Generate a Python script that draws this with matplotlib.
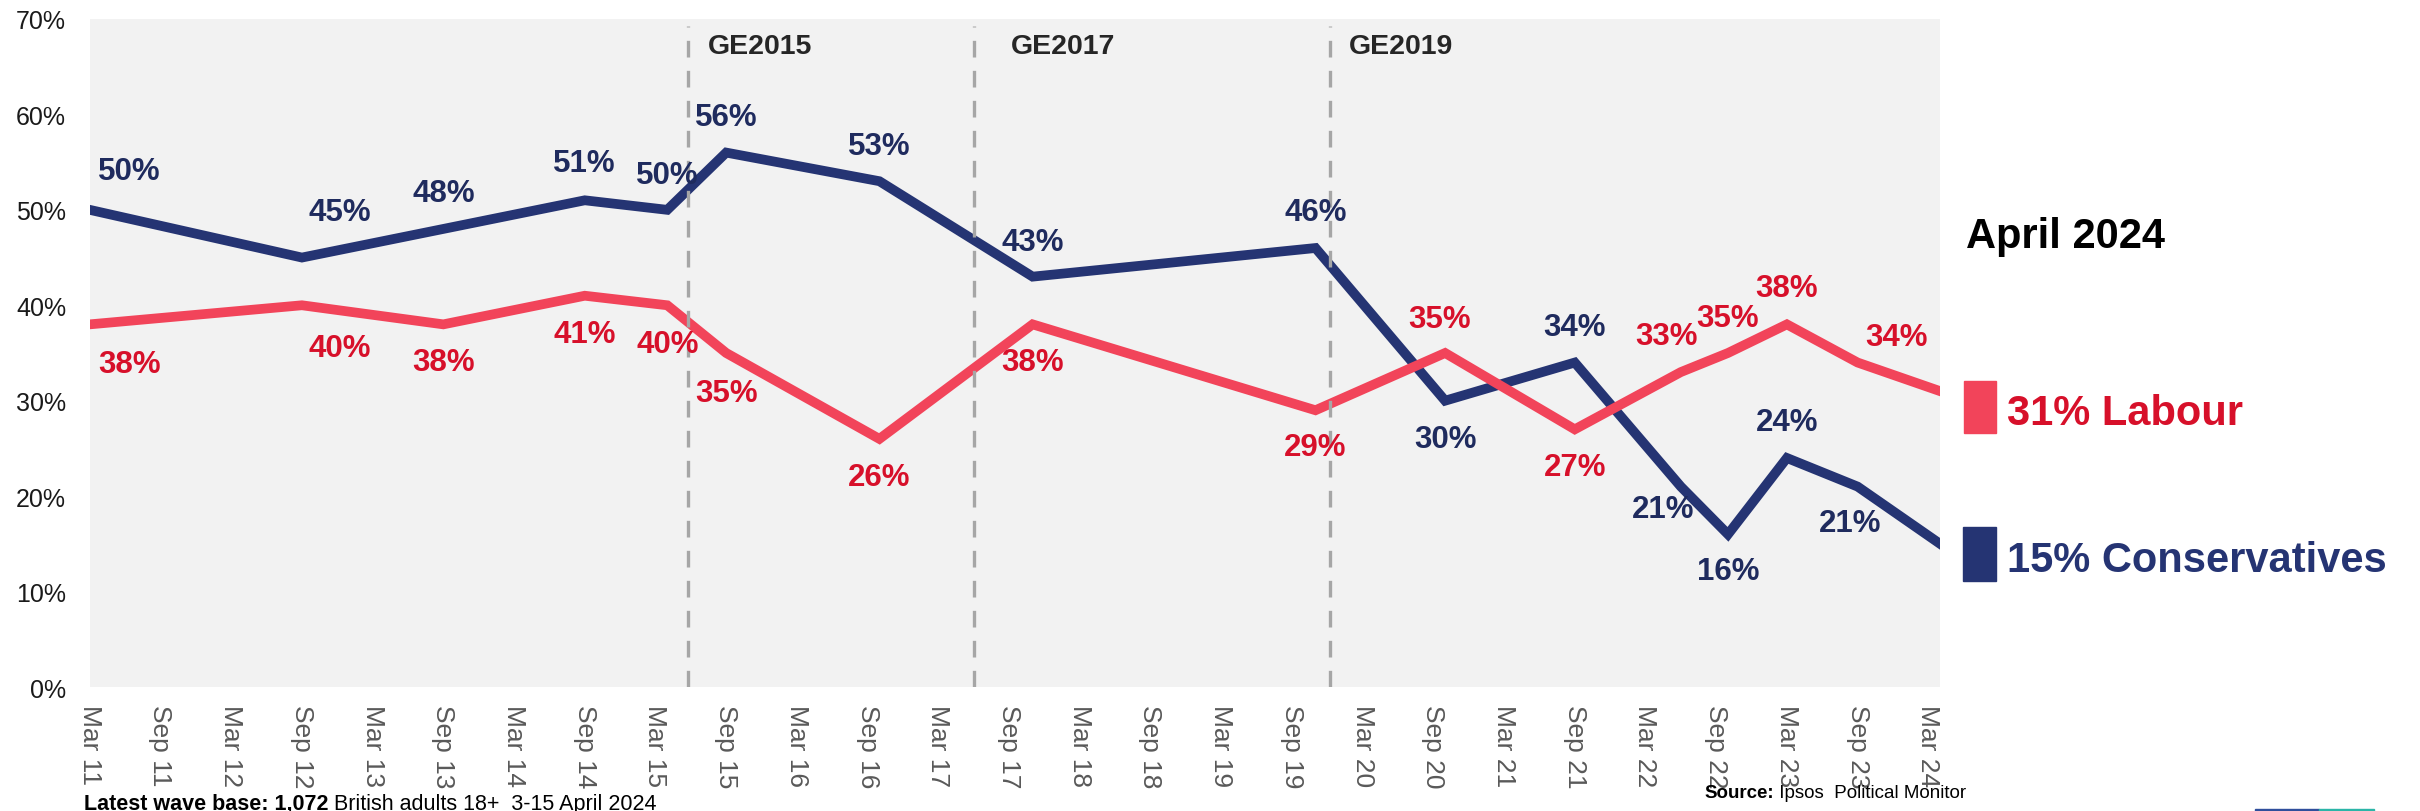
import matplotlib.pyplot as plt
from matplotlib.patches import Rectangle

plt.rcParams['font.family'] = ['Liberation Sans', 'DejaVu Sans']

## data ##

# months counted from March 2011
months = [0, 18, 30, 42, 49, 54, 67, 80, 104, 115, 126, 135, 139, 144, 150, 157]
conservatives = [50, 45, 48, 51, 50, 56, 53, 43, 46, 30, 34, 21, 16, 24, 21, 15]
labour = [38, 40, 38, 41, 40, 35, 26, 38, 29, 35, 27, 33, 35, 38, 34, 31]

tick_months = list(range(0, 157, 6))
tick_labels = []
for year in range(11, 25):
    tick_labels.append('Mar ' + str(year))
    if year < 24:
        tick_labels.append('Sep ' + str(year))

elections = ['GE2015', 'GE2017', 'GE2019']
election_months = [50.75, 75.0, 105.2]

## label placement (pixels from the point) ##

con_offsets = [(40, 39), (38, 46), (0, 36), (0, 37), (0, 35), (0, 36), (0, 35), (0, 35),
               (0, 36), (0, -38), (0, 36), (-18, -22), (0, -37), (0, 36), (-7, -36), None]
lab_offsets = [(40, -40), (38, -43), (0, -38), (0, -38), (0, -39), (0, -40), (0, -38), (0, -38),
               (0, -37), (-6, 34), (0, -38), (-14, 36), (0, 35), (0, 36), (39, 26), None]
ge_dx = [20, 37, 19]

blue = '#253473'
blue_text = '#1f2b5e'
red = '#f2445a'
red_text = '#d7102a'

fig = plt.figure(figsize=(24.2, 8.12), dpi=100)
ax = fig.add_axes([0.0371, 0.1527, 0.7646, 0.8227])
ax.set_facecolor('#f2f2f2')

ax.plot(months, conservatives, color=blue, lw=7, solid_joinstyle='miter', zorder=2)
ax.plot(months, labour, color=red, lw=7, solid_joinstyle='miter', zorder=2)

for m, name, dx in zip(election_months, elections, ge_dx):
    ax.axvline(m, ymin=0, ymax=0.99, color='#a6a6a6', lw=2.4, dashes=(5, 4), zorder=3)
    ax.annotate(name, xy=(m, 70), xytext=(dx, -27), textcoords='offset pixels',
                ha='left', va='center', fontsize=20.5, fontweight='bold', color='#262626')

for x, v, off in zip(months, conservatives, con_offsets):
    if off is None:
        continue
    ax.annotate(str(v) + '%', xy=(x, v), xytext=off, textcoords='offset pixels',
                ha='center', va='center', fontsize=22.5, fontweight='bold', color=blue_text, zorder=4)

for x, v, off in zip(months, labour, lab_offsets):
    if off is None:
        continue
    ax.annotate(str(v) + '%', xy=(x, v), xytext=off, textcoords='offset pixels',
                ha='center', va='center', fontsize=22.5, fontweight='bold', color=red_text, zorder=4)

ax.set_xlim(0, 157)
ax.set_ylim(0, 70)
ax.set_yticks(range(0, 71, 10))
ax.set_yticklabels([str(v) + '%' for v in range(0, 71, 10)])
ax.set_xticks(tick_months)
ax.set_xticklabels(tick_labels, rotation=-90, va='top', ha='center')
ax.tick_params(axis='y', length=0, pad=17, labelsize=18, labelcolor='#1a1a1a')
ax.tick_params(axis='x', length=0, pad=12, labelsize=19, labelcolor='#595959')
for s in ax.spines.values():
    s.set_visible(False)

## right-hand key ##

fig.text(0.8124, 0.6946, 'April 2024', fontsize=30, fontweight='bold', color='black', va='baseline')
fig.patches.append(Rectangle((0.8116, 0.4655), 0.0132, 0.064, color=red, transform=fig.transFigure))
fig.patches.append(Rectangle((0.8112, 0.2833), 0.0136, 0.0665, color=blue, transform=fig.transFigure))
fig.text(0.8293, 0.4766, str(labour[-1]) + '% Labour', fontsize=30, fontweight='bold',
         color=red_text, va='baseline')
fig.text(0.8293, 0.2956, str(conservatives[-1]) + '% Conservatives', fontsize=30, fontweight='bold',
         color=blue, va='baseline')

## footnotes ##

t1 = fig.text(0.0347, 0.0025, 'Latest wave base: 1,072', fontsize=15.5, fontweight='bold', va='baseline')
ax.annotate(' British adults 18+  3-15 April 2024', xy=(1, 0), xycoords=t1,
            fontsize=15.5, va='bottom', ha='left', annotation_clip=False)

t2 = fig.text(0.7043, 0.0172, 'Source:', fontsize=13.5, fontweight='bold', va='baseline')
ax.annotate(' Ipsos  Political Monitor', xy=(1, 0), xycoords=t2,
            fontsize=13.5, va='bottom', ha='left', annotation_clip=False)

# bit of the logo bar peeking in at the bottom right
fig.patches.append(Rectangle((2255 / 2420, 0), 64 / 2420, 2.5 / 812, color='#2f4f9c', transform=fig.transFigure))
fig.patches.append(Rectangle((2319 / 2420, 0), 55 / 2420, 2.5 / 812, color='#2bb5a8', transform=fig.transFigure))

plt.savefig('out.png', dpi=100)
